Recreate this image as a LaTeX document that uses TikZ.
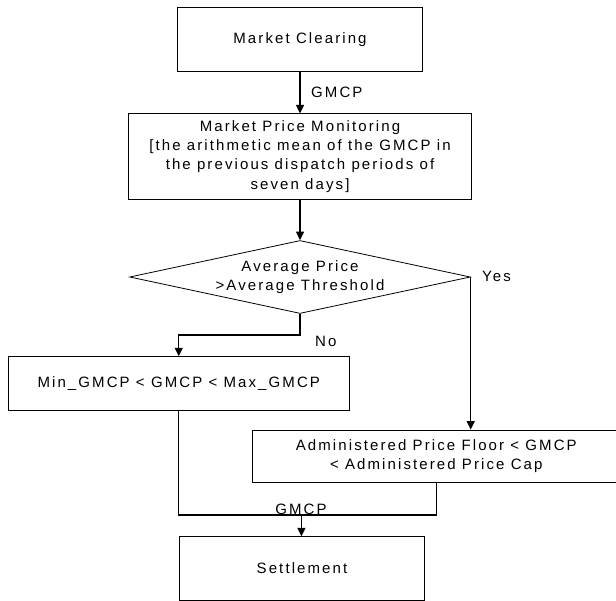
\documentclass[tikz,border=0pt]{standalone}
\usepackage{fontspec}
\setmainfont{Liberation Sans}[LetterSpace=14]
\usetikzlibrary{arrows.meta,shapes.geometric}
\begin{document}
\begin{tikzpicture}[x=1pt,y=-1pt, font=\fontsize{15}{19.3}\selectfont,
  box/.style={draw, line width=0.8pt, inner sep=0pt, align=center},
  conn/.style={line width=1.4pt, line join=miter},
  arr/.style={conn, -{Triangle[length=8.5pt,width=8pt]}},
  lbl/.style={inner sep=0pt, align=center}]
\useasboundingbox (0,0) rectangle (616,601);
% boxes
\node[box, minimum width=244.8pt, minimum height=63.7pt] (mc) at (300,39.2) {Market Clearing};
\node[box, minimum width=342.6pt, minimum height=85.3pt] (mpm) at (300,156.4)
  {Market Price Monitoring\\{[}the arithmetic mean of the GMCP in\\the previous dispatch periods of\\seven days{]}};
\node[draw, diamond, line width=0.8pt, inner sep=0pt, minimum width=340.6pt, minimum height=73pt] (dia) at (300,277) {};
\node[lbl] (diat) at (300,277) {Average Price\\>Average Threshold};
\node[box, minimum width=341.7pt, minimum height=53.3pt] (minb) at (178.75,383.35) {Min\_GMCP < GMCP < Max\_GMCP};
\node[box, minimum width=367.4pt, minimum height=52.5pt] (adm) at (436.3,456.25) {Administered Price Floor < GMCP\\< Administered Price Cap};
\node[box, minimum width=244.7pt, minimum height=63.3pt] (set) at (302,568.35) {Settlement};
% connectors
\draw[arr] (mc.south) -- (mpm.north);
\draw[arr] (mpm.south) -- (dia.north);
\draw[arr] (dia.east) -- (dia.east |- adm.north);
\coordinate (nob) at (300,335);
\draw[arr] (dia.south) -- (nob) -| (minb.north);
\coordinate (mg) at (301.4,515);
\draw[conn] (minb.south) |- (adm.south |- mg) -- (adm.south);
\draw[arr] (mg) -- (mg |- set.north);
% labels
\node[lbl, anchor=west] (l1) at (311,92) {GMCP};
\node[lbl, anchor=west] (lyes) at (482,276) {Yes};
\node[lbl, anchor=west] (lno) at (315,341) {No};
\node[lbl, anchor=base] (l2) at (301,514) {GMCP};
\end{tikzpicture}
\end{document}
